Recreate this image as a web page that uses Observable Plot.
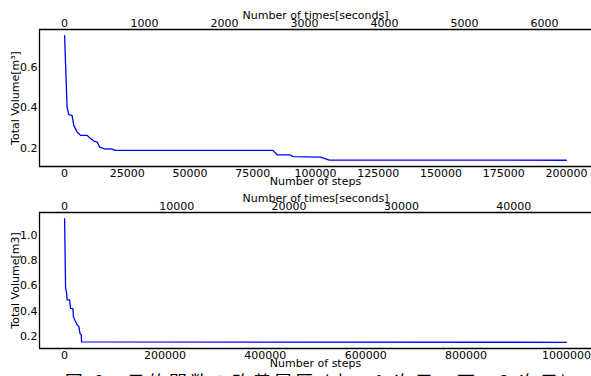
<!DOCTYPE html>
<html><head><meta charset="utf-8">
<script src="https://cdn.jsdelivr.net/npm/d3@7"></script>
<script src="https://cdn.jsdelivr.net/npm/@observablehq/plot@0.6"></script>
<style>
html,body{margin:0;padding:0;background:#fff}
body{width:591px;height:376px;overflow:hidden;position:relative;font-family:"DejaVu Sans",sans-serif}
#p1,#p2{display:block;line-height:0}
#cap{position:absolute;left:22px;width:591px;top:372px;text-align:center;font-family:"Noto Sans CJK JP",sans-serif;font-size:18px;line-height:18px;letter-spacing:3px;color:#000;white-space:nowrap}
</style></head><body>
<div id="p1"></div><div id="p2"></div>
<div id="cap">図 6：目的関数の改善履歴 (上：1 次元，下：2 次元)</div>
<script>
// ---- Panel 1 (1-D) ----
const steps1 = [0, 1000, 1700, 3000, 3700, 5000, 6400, 9000, 10400, 11700, 13000, 14000, 15700, 19000, 20000, 83000, 84700, 89800, 91000, 102000, 105500, 200000];
const vol1   = [0.755, 0.40, 0.365, 0.36, 0.31, 0.28, 0.263, 0.263, 0.246, 0.235, 0.23, 0.205, 0.197, 0.195, 0.189, 0.189, 0.167, 0.167, 0.158, 0.156, 0.141, 0.140];
const stepTicks1 = [0, 25000, 50000, 75000, 100000, 125000, 150000, 175000, 200000];
const secTicks1 = [0, 1000, 2000, 3000, 4000, 5000, 6000];
const totalSteps1 = 200000;
const totalSeconds1 = 6275;
const volTicks1 = [0.2, 0.4, 0.6];

// ---- Panel 2 (2-D) ----
const steps2 = [0, 2000, 3500, 5300, 10000, 12000, 16600, 17500, 21900, 25200, 28500, 30500, 33200, 33900, 1000000];
const vol2   = [1.13, 0.58, 0.56, 0.49, 0.489, 0.423, 0.42, 0.357, 0.318, 0.292, 0.28, 0.227, 0.213, 0.158, 0.155];
const stepTicks2 = [0, 200000, 400000, 600000, 800000, 1000000];
const secTicks2 = [0, 10000, 20000, 30000, 40000];
const totalSteps2 = 1000000;
const totalSeconds2 = 44700;
const volTicks2 = [0.2, 0.4, 0.6, 0.8, 1.0];

const xLabel = "Number of steps";
const x2Label = "Number of times[seconds]";
const yLabel1 = "Total Volume[m³]";
const yLabel2 = "Total Volume[m3]";

function panel(o) {
  const r = o.totalSteps / o.totalSeconds;
  const xMin = d3.min(o.steps), xMax = d3.max(o.steps);
  const yMin = d3.min(o.vol), yMax = d3.max(o.vol);
  const xPad = (xMax - xMin) * 0.05, yPad = (yMax - yMin) * 0.05;
  const xDomain = [xMin - xPad, xMax + xPad];
  const yDomain = [yMin - yPad, yMax + yPad];
  const data = o.steps.map((s, i) => ({s, v: o.vol[i]}));
  const fmt = d3.format("d");
  return Plot.plot({
    width: 591, height: o.height,
    marginLeft: 39, marginRight: 0, marginTop: o.marginTop, marginBottom: o.marginBottom,
    style: {fontFamily: "DejaVu Sans", fontSize: "11px", color: "#000", background: "#fff", overflow: "visible"},
    x: {domain: xDomain},
    y: {domain: yDomain},
    marks: [
      Plot.axisX({anchor: "bottom", ticks: o.stepTicks, tickFormat: fmt, tickSize: 0, tickPadding: 3, label: null}),
      Plot.axisX({anchor: "top", ticks: o.secTicks.map(t => t * r), tickFormat: d => fmt(Math.round(d / r)), tickSize: 0, tickPadding: 3, label: null}),
      Plot.axisY({ticks: o.volTicks, tickFormat: d3.format(".1f"), tickSize: 0, tickPadding: 2, label: null}),
      Plot.ruleX([xDomain[0]], {stroke: "#000", strokeWidth: 1.3}),
      Plot.ruleY([yDomain[0], yDomain[1]], {stroke: "#000", strokeWidth: 1.3}),
      Plot.line(data, {x: "s", y: "v", stroke: "#0000ff", strokeWidth: 1.3}),
      Plot.text([xLabel], {frameAnchor: "bottom", dy: 11, lineAnchor: "top", fontSize: 11}),
      Plot.text([x2Label], {frameAnchor: "top", dy: -11, lineAnchor: "bottom", fontSize: 11}),
      Plot.text([o.yLabel], {frameAnchor: "left", dx: -24, rotate: -90, textAnchor: "middle", lineAnchor: "middle", fontSize: 11})
    ]
  });
}

document.getElementById("p1").append(panel({
  steps: steps1, vol: vol1, stepTicks: stepTicks1, secTicks: secTicks1,
  totalSteps: totalSteps1, totalSeconds: totalSeconds1, volTicks: volTicks1,
  yLabel: yLabel1, height: 188, marginTop: 29, marginBottom: 22
}));
document.getElementById("p2").append(panel({
  steps: steps2, vol: vol2, stepTicks: stepTicks2, secTicks: secTicks2,
  totalSteps: totalSteps2, totalSeconds: totalSeconds2, volTicks: volTicks2,
  yLabel: yLabel2, height: 188, marginTop: 24, marginBottom: 28
}));
</script>
</body></html>
